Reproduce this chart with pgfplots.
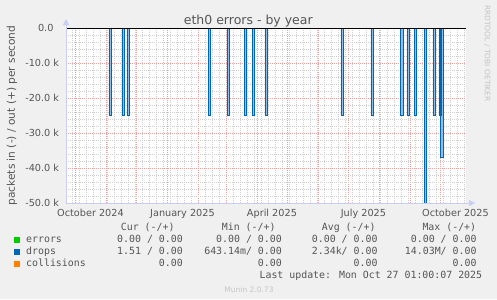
\documentclass[border=0pt]{standalone}
\usepackage{pgfplots}
\pgfplotsset{compat=1.18}
\usetikzlibrary{arrows.meta}
\usepackage{fontspec}
\setmainfont{DejaVu Sans}
\newfontfamily\monofont{DejaVu Sans Mono}
\definecolor{bgcol}{HTML}{F0F0F0}
\definecolor{txt}{HTML}{555555}
\definecolor{gridred}{HTML}{EBA0A0}
\definecolor{gridgrey}{HTML}{CFCFCF}
\definecolor{axiscol}{HTML}{C8CEF5}
\definecolor{bardark}{HTML}{0066B3}
\definecolor{barlight}{HTML}{8CBFE6}
\definecolor{errcol}{HTML}{00CC00}
\definecolor{colcol}{HTML}{FF8000}
\definecolor{wm}{HTML}{C4C4C4}
\newcommand{\tickfont}{\fontsize{9.7bp}{11bp}\selectfont}
\newcommand{\legfont}{\monofont\fontsize{9.9bp}{11bp}\selectfont}
\begin{document}
\begin{tikzpicture}
\begin{scope}[x=1bp,y=-1bp]
\fill[bgcol] (0,0) rectangle (497,299);
\useasboundingbox (0,0) rectangle (497,299);
\end{scope}
\begin{axis}[
  at={(66bp,-203bp)}, anchor=south west,
  scale only axis, width=400bp, height=175bp,
  xmin=0, xmax=400, ymin=-50, ymax=0,
  clip=false,
  axis line style={draw=none},
  axis background/.style={fill=white},
  tick style={draw=none},
  xtick={8.96,39.96,69.96,100.96,131.96,159.96,190.96,220.96,251.96,281.96,312.96,343.96,373.96},
  xticklabels={},
  extra x ticks={24.46,116.46,205.96,297.46,389.46},
  extra x tick labels={October 2024,January 2025,April 2025,July 2025,October 2025},
  extra x tick style={grid=none, xticklabel style={anchor=base, inner sep=0pt, yshift=-13.7bp, font=\tickfont, text=txt}},
  minor xtick={6.5,13.5,...,398.5},
  ytick={-50,-40,-30,-20,-10,0},
  yticklabels={-50.0 k,-40.0 k,-30.0 k,-20.0 k,-10.0 k,0.0\hphantom{k}},
  yticklabel style={anchor=east, inner sep=0pt, xshift=-6.7bp, font=\tickfont, text=txt},
  minor ytick={-48,-46,...,-2},
  grid=both,
  major grid style={draw=gridred, dash pattern=on 1bp off 1bp, line width=0.8bp},
  minor grid style={draw=gridgrey, dash pattern=on 1bp off 1bp, line width=0.8bp},
]
\addplot[ybar, bar width=2.4, fill=barlight, draw=bardark, line width=0.5bp] coordinates {
 (44,-25) (57.5,-25) (62,-25) (143.5,-25) (162,-25) (179.5,-25) (187.5,-25) (200,-25)
 (276,-25) (306,-25) (335.7,-25) (342,-25) (349.5,-25) (359.5,-50) (368,-25) (374,-25) (375.8,-37)
};
\addplot[black, line width=1bp] coordinates {(0,0) (400,0)};
\draw[axiscol, line width=0.8bp, -{Triangle[width=6bp,length=6bp]}] (rel axis cs:0,0) -- ([yshift=9bp]rel axis cs:0,1);
\draw[axiscol, line width=0.8bp, -{Triangle[width=6bp,length=6bp]}] (rel axis cs:0,0) -- ([xshift=9bp]rel axis cs:1,0);
\end{axis}
\begin{scope}[x=1bp,y=-1bp]
\node[anchor=base, inner sep=0pt, text=txt, font=\fontsize{12.5bp}{14bp}\selectfont] at (248.3,24) {eth0 errors - by year};
\node[rotate=90, inner sep=0pt, text=txt, font=\fontsize{10.6bp}{12bp}\selectfont] at (12,115.5) {packets in (-) / out (+) per second};
\node[rotate=-90, inner sep=0pt, text=wm, font=\fontsize{7.5bp}{9bp}\selectfont] at (487.3,53.5) {RRDTOOL / TOBI OETIKER};
% legend
\fill[errcol] (14,237.3) rectangle (20,242.8);
\fill[bardark] (14,249.3) rectangle (20,254.8);
\fill[colcol] (14,261) rectangle (20,266.5);
\begin{scope}[every node/.style={inner sep=0pt, text=txt, font=\legfont}]
\node[anchor=base west] at (26,242.5) {errors};
\node[anchor=base west] at (26,254.5) {drops};
\node[anchor=base west] at (26,266.5) {collisions};
\node[anchor=base west] at (120.7,230.3) {Cur (-/+)};
\node[anchor=base west] at (221.7,230.3) {Min (-/+)};
\node[anchor=base west] at (321.7,230.3) {Avg (-/+)};
\node[anchor=base west] at (422.3,230.3) {Max (-/+)};
\node[anchor=base east] at (183,242.5) {0.00 / 0.00};
\node[anchor=base east] at (282,242.5) {0.00 / 0.00};
\node[anchor=base east] at (377.7,242.5) {0.00 / 0.00};
\node[anchor=base east] at (476.7,242.5) {0.00 / 0.00};
\node[anchor=base east] at (183,254.5) {1.51 / 0.00};
\node[anchor=base east] at (282,254.5) {643.14m/ 0.00};
\node[anchor=base east] at (377.7,254.5) {2.34k/ 0.00};
\node[anchor=base east] at (476.7,254.5) {14.03M/ 0.00};
\node[anchor=base east] at (183,266.5) {0.00};
\node[anchor=base east] at (282,266.5) {0.00};
\node[anchor=base east] at (377.7,266.5) {0.00};
\node[anchor=base east] at (476.7,266.5) {0.00};
\node[anchor=base east] at (482.3,278.3) {Last update: Mon Oct 27 01:00:07 2025};
\end{scope}
\node[anchor=base, inner sep=0pt, text=wm, font=\fontsize{7.5bp}{9bp}\selectfont] at (249,292) {Munin 2.0.73};
\end{scope}
\end{tikzpicture}
\end{document}
